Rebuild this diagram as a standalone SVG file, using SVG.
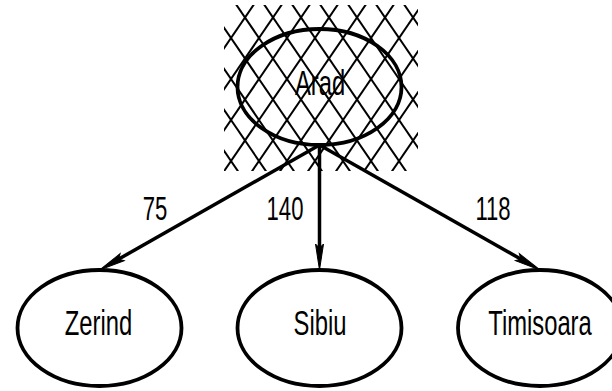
<svg xmlns="http://www.w3.org/2000/svg" width="612" height="391" viewBox="0 0 612 391">
<style>
.bg{fill:#ffffff}
.hatch line{stroke:#000;stroke-width:2}
.node ellipse{fill:none;stroke:#000;stroke-width:3.8}
.node text{font-family:"Liberation Sans",Arial,sans-serif;font-size:35px;text-anchor:middle;fill:#000}
.edge{fill:none;stroke:#000;stroke-width:3.5;marker-end:url(#arrow)}
.label{font-family:"Liberation Sans",Arial,sans-serif;font-size:33px;text-anchor:middle;fill:#000}
</style>
<defs>
<clipPath id="hclip"><rect x="224" y="5" width="194" height="166"/></clipPath>
<marker id="arrow" markerUnits="userSpaceOnUse" markerWidth="28" markerHeight="10" refX="14" refY="5" orient="auto" overflow="visible">
<path d="M0,1 L26,5 L0,9 L4,5 Z" fill="#000" stroke="#000" stroke-width="1"/>
</marker>
</defs>
<rect class="bg" x="0" y="0" width="612" height="391"/>
<g class="hatch" clip-path="url(#hclip)">
<line x1="121.05" y1="0" x2="243.98" y2="180"/>
<line x1="149.05" y1="0" x2="271.98" y2="180"/>
<line x1="177.05" y1="0" x2="299.98" y2="180"/>
<line x1="205.05" y1="0" x2="327.98" y2="180"/>
<line x1="233.05" y1="0" x2="355.98" y2="180"/>
<line x1="261.05" y1="0" x2="383.98" y2="180"/>
<line x1="289.05" y1="0" x2="411.98" y2="180"/>
<line x1="317.05" y1="0" x2="439.98" y2="180"/>
<line x1="345.05" y1="0" x2="467.98" y2="180"/>
<line x1="373.05" y1="0" x2="495.98" y2="180"/>
<line x1="401.05" y1="0" x2="523.98" y2="180"/>
<line x1="256.95" y1="0" x2="134.02" y2="180"/>
<line x1="284.95" y1="0" x2="162.02" y2="180"/>
<line x1="312.95" y1="0" x2="190.02" y2="180"/>
<line x1="340.95" y1="0" x2="218.02" y2="180"/>
<line x1="368.95" y1="0" x2="246.02" y2="180"/>
<line x1="396.95" y1="0" x2="274.02" y2="180"/>
<line x1="424.95" y1="0" x2="302.02" y2="180"/>
<line x1="452.95" y1="0" x2="330.02" y2="180"/>
<line x1="480.95" y1="0" x2="358.02" y2="180"/>
<line x1="508.95" y1="0" x2="386.02" y2="180"/>
</g>
<g id="node-arad" class="node">
<ellipse cx="319.5" cy="87" rx="82" ry="58"/>
<text transform="translate(320,95) scale(0.68,1)">Arad</text>
</g>
<g id="node-zerind" class="node">
<ellipse cx="99.5" cy="328" rx="82" ry="58"/>
<text transform="translate(98.5,335) scale(0.68,1)">Zerind</text>
</g>
<g id="node-sibiu" class="node">
<ellipse cx="319.5" cy="328" rx="82" ry="58"/>
<text transform="translate(320,335) scale(0.68,1)">Sibiu</text>
</g>
<g id="node-timisoara" class="node">
<ellipse cx="540" cy="328" rx="82" ry="58"/>
<text transform="translate(540,335) scale(0.68,1)">Timisoara</text>
</g>
<g id="connectors">
<path class="edge" d="M319.5,145 L109.9,264.1"/>
<path class="edge" d="M319.5,145 L319.5,258"/>
<path class="edge" d="M319.5,145 L529.56,264.08"/>
<text class="label" transform="translate(155,220) scale(0.67,1)">75</text>
<text class="label" transform="translate(285,220) scale(0.67,1)">140</text>
<text class="label" transform="translate(493,220) scale(0.67,1)">118</text>
</g>
</svg>
